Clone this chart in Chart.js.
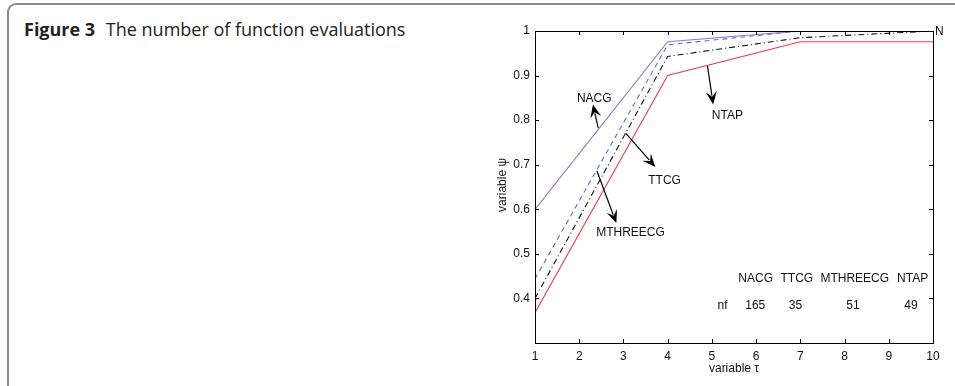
<!DOCTYPE html>
<html>
<head>
<meta charset="utf-8">
<script src="https://cdn.jsdelivr.net/npm/chart.js@4.4.1/dist/chart.umd.min.js"></script>
<style>
  html, body { margin: 0; padding: 0; background: #fff; overflow: hidden; }
  #wrap { position: relative; width: 955px; height: 386px; overflow: hidden; }
  #frame { position: absolute; left: 7px; top: 3px; width: 1100px; height: 392px; border: 2px solid #8c8c8c; border-radius: 9px; box-sizing: border-box; }
  #title { position: absolute; left: 24px; top: 20px; line-height: 18px; font-family: "Open Sans", sans-serif; font-size: 18px; color: #222; white-space: nowrap; }
  #title b { font-weight: 700; margin-right: 6px; }
  canvas { position: absolute; left: 0; top: 0; }
</style>
</head>
<body>
<div id="wrap">
  <div id="frame"></div>
  <div id="title"><b>Figure 3</b> The number of function evaluations</div>
  <canvas id="c" width="955" height="386"></canvas>
</div>
<script>
// ---- data ----
const xValues = [1, 4, 7, 10];
const nacg = [0.600, 0.976, 1.000, 1.000];
const ttcg = [0.444, 0.969, 1.000, 1.000];
const mthreecg = [0.400, 0.943, 0.985, 1.000];
const ntap = [0.368, 0.900, 0.976, 0.976];
const seriesNames = ['NACG', 'TTCG', 'MTHREECG', 'NTAP'];
const nfValues = [165, 35, 51, 49];
const xTicks = [1, 2, 3, 4, 5, 6, 7, 8, 9, 10];
const yTicks = [0.4, 0.5, 0.6, 0.7, 0.8, 0.9, 1];

// annotation arrows (data coords): label, label pos, arrow from, arrow to
const arrowNotes = [
  { text: 'NACG', tx: 2.34, ty: 0.848, fx: 2.43, fy: 0.782, hx: 2.31, hy: 0.835 },
  { text: 'NTAP', tx: 5.35, ty: 0.810, fx: 4.90, fy: 0.922, hx: 5.03, hy: 0.835 },
  { text: 'TTCG', tx: 3.93, ty: 0.665, fx: 3.05, fy: 0.771, hx: 3.72, hy: 0.695 },
  { text: 'MTHREECG', tx: 3.16, ty: 0.547, fx: 2.40, fy: 0.686, hx: 2.84, hy: 0.569 }
];
// table text positions (x centers)
const tableHeaderX = [5.99, 6.92, 8.23, 9.54];
const tableValueX = [5.98, 6.89, 8.19, 9.50];
const tableHeaderY = 0.444;
const tableValueY = 0.383;
const nfLabelX = 5.24;

const toPts = arr => arr.map((v, i) => ({ x: xValues[i], y: v }));

const FONT = '12px "Liberation Sans", Arial, sans-serif';

const decor = {
  id: 'decor',
  afterDatasetsDraw(chart) {
    const ctx = chart.ctx;
    const xs = chart.scales.x, ys = chart.scales.y;
    const a = chart.chartArea;
    const px = v => xs.getPixelForValue(v), py = v => ys.getPixelForValue(v);
    ctx.save();
    // frame
    ctx.strokeStyle = '#000';
    ctx.lineWidth = 1;
    ctx.strokeRect(Math.round(a.left) + 0.5, Math.round(a.top) + 0.5, Math.round(a.right) - Math.round(a.left), Math.round(a.bottom) - Math.round(a.top));
    // ticks inward
    const tl = 4;
    ctx.beginPath();
    xTicks.forEach(t => {
      const x = Math.round(px(t)) + 0.5;
      ctx.moveTo(x, a.bottom); ctx.lineTo(x, a.bottom - tl);
      ctx.moveTo(x, a.top); ctx.lineTo(x, a.top + tl);
    });
    yTicks.forEach(t => {
      const y = Math.round(py(t)) + 0.5;
      ctx.moveTo(a.left, y); ctx.lineTo(a.left + tl, y);
      ctx.moveTo(a.right, y); ctx.lineTo(a.right - tl, y);
    });
    ctx.stroke();

    ctx.fillStyle = '#111';
    ctx.font = FONT;
    // axis titles
    ctx.textAlign = 'center'; ctx.textBaseline = 'middle';
    ctx.fillText('variable \u03C4', (a.left + a.right) / 2, 369);
    ctx.save();
    ctx.translate(503, (a.top + a.bottom) / 2 - 2);
    ctx.rotate(-Math.PI / 2);
    ctx.fillText('variable \u03C8', 0, 0);
    ctx.restore();

    // clipped legend hint "N"
    ctx.textAlign = 'left';
    ctx.fillText('N', a.right + 2, py(1) + 1);

    // arrows
    ctx.strokeStyle = '#000';
    ctx.fillStyle = '#000';
    arrowNotes.forEach(n => {
      const x1 = px(n.fx), y1 = py(n.fy), x2 = px(n.hx), y2 = py(n.hy);
      const ang = Math.atan2(y2 - y1, x2 - x1);
      const L = 13, W = 5.5;
      const bx = x2 - L * Math.cos(ang), by = y2 - L * Math.sin(ang);
      ctx.lineWidth = 1.2;
      ctx.beginPath(); ctx.moveTo(x1, y1); ctx.lineTo(bx + 4 * Math.cos(ang), by + 4 * Math.sin(ang)); ctx.stroke();
      ctx.beginPath();
      ctx.moveTo(x2, y2);
      ctx.lineTo(bx + W * Math.sin(ang), by - W * Math.cos(ang));
      ctx.lineTo(x2 - 0.6 * L * Math.cos(ang), y2 - 0.6 * L * Math.sin(ang));
      ctx.lineTo(bx - W * Math.sin(ang), by + W * Math.cos(ang));
      ctx.closePath();
      ctx.fill();
      ctx.fillStyle = '#111';
      ctx.textAlign = 'center';
      ctx.fillText(n.text, px(n.tx), py(n.ty));
      ctx.fillStyle = '#000';
    });

    // table
    ctx.fillStyle = '#111';
    ctx.textAlign = 'center';
    seriesNames.forEach((s, i) => ctx.fillText(s, px(tableHeaderX[i]), py(tableHeaderY)));
    ctx.fillText('nf', px(nfLabelX), py(tableValueY));
    nfValues.forEach((v, i) => ctx.fillText(String(v), px(tableValueX[i]), py(tableValueY)));
    ctx.restore();
  }
};

new Chart(document.getElementById('c'), {
  type: 'line',
  data: {
    datasets: [
      { label: 'NACG', data: toPts(nacg), borderColor: '#9a72c8', borderWidth: 1.1, pointRadius: 0, fill: false, tension: 0 },
      { label: 'TTCG', data: toPts(ttcg), borderColor: '#4a78cf', borderWidth: 1.1, borderDash: [5, 4], pointRadius: 0, fill: false, tension: 0 },
      { label: 'MTHREECG', data: toPts(mthreecg), borderColor: '#111', borderWidth: 1.1, borderDash: [6, 3, 1, 3], pointRadius: 0, fill: false, tension: 0 },
      { label: 'NTAP', data: toPts(ntap), borderColor: '#e5434b', borderWidth: 1.1, pointRadius: 0, fill: false, tension: 0 }
    ]
  },
  options: {
    responsive: false,
    animation: false,
    devicePixelRatio: 1,
    layout: { padding: { left: 480, top: 31, right: 22, bottom: 0 } },
    plugins: { legend: { display: false }, tooltip: { enabled: false }, title: { display: false } },
    scales: {
      x: {
        type: 'linear', min: 1, max: 10,
        afterBuildTicks: s => { s.ticks = xTicks.map(v => ({ value: v })); },
        afterFit: s => { s.height = 43; },
        grid: { display: false, drawTicks: false },
        border: { display: false },
        ticks: { padding: 6, color: '#111', font: { family: '"Liberation Sans", Arial, sans-serif', size: 12 }, maxRotation: 0, autoSkip: false }
      },
      y: {
        type: 'linear', min: 0.3, max: 1,
        afterBuildTicks: s => { s.ticks = yTicks.map(v => ({ value: v })); },
        afterFit: s => { s.width = 55; },
        grid: { display: false, drawTicks: false },
        border: { display: false },
        ticks: { padding: 5, color: '#111', font: { family: '"Liberation Sans", Arial, sans-serif', size: 12 }, callback: v => String(Math.round(v * 10) / 10) }
      }
    }
  },
  plugins: [decor]
});
</script>
</body>
</html>
